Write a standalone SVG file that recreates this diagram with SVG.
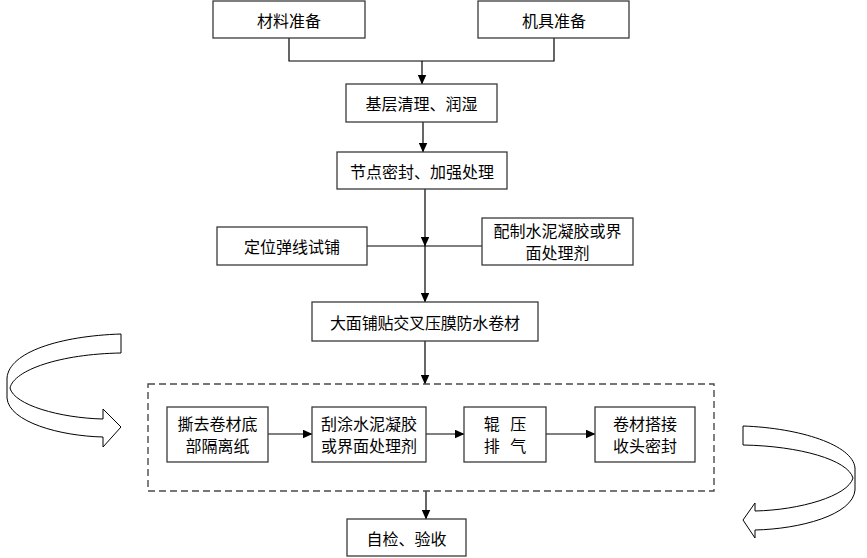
<svg xmlns="http://www.w3.org/2000/svg" width="867" height="558" viewBox="0 0 867 558">
<defs>
<marker id="ah" markerUnits="userSpaceOnUse" markerWidth="10" markerHeight="9" refX="9.5" refY="4.5" orient="auto">
<path d="M0,0 L10,4.5 L0,9 Z" fill="#000"/>
</marker>
</defs>
<style>
.box{fill:#fff;stroke:#3a3a3a;stroke-width:1.3}
.t{font-family:"Noto Sans CJK SC","Microsoft YaHei",sans-serif;font-size:16px;fill:#000;text-anchor:middle;dominant-baseline:central}
.c{fill:none;stroke:#000;stroke-width:1.2}
.a{marker-end:url(#ah)}
.dash{fill:none;stroke:#4a4a4a;stroke-width:1.4;stroke-dasharray:7 4}
.band{fill:#fff;stroke:#000;stroke-width:1}
</style>
<rect width="867" height="558" fill="#fff"/>
<g id="connectors">
<path class="c" d="M289,38 V61 H554 V38"/>
<path class="c a" d="M422,61 V84"/>
<path class="c a" d="M423,122 V152"/>
<path class="c a" d="M425,189 V246"/>
<path class="c" d="M367,246 H482"/>
<path class="c a" d="M425,246 V302"/>
<path class="c a" d="M425,341 V384"/>
<path class="c a" d="M268,434 H312"/>
<path class="c a" d="M426,434 H464"/>
<path class="c a" d="M546,434 H595"/>
<path class="c a" d="M426,491 V519"/>
</g>
<g id="group-dashed">
<rect class="dash" x="148" y="384" width="566" height="107"/>
</g>
<g id="n1"><rect class="box" x="213" y="1" width="152" height="37"/><text class="t" x="289" y="20">材料准备</text></g>
<g id="n2"><rect class="box" x="478" y="1" width="151" height="37"/><text class="t" x="554" y="20">机具准备</text></g>
<g id="n3"><rect class="box" x="346" y="84" width="151" height="38"/><text class="t" x="421.5" y="103">基层清理、润湿</text></g>
<g id="n4"><rect class="box" x="337" y="152" width="170" height="37"/><text class="t" x="422" y="171">节点密封、加强处理</text></g>
<g id="n5"><rect class="box" x="217" y="227" width="150" height="38"/><text class="t" x="292" y="246">定位弹线试铺</text></g>
<g id="n6"><rect class="box" x="482" y="218" width="151" height="47"/><text class="t" x="557.5" y="230">配制水泥凝胶或界</text><text class="t" x="557.5" y="252">面处理剂</text></g>
<g id="n7"><rect class="box" x="312" y="302" width="226" height="39"/><text class="t" x="425" y="322" textLength="190" lengthAdjust="spacing">大面铺贴交叉压膜防水卷材</text></g>
<g id="n8"><rect class="box" x="167" y="407" width="101" height="55"/><text class="t" x="217.5" y="423">撕去卷材底</text><text class="t" x="217.5" y="445">部隔离纸</text></g>
<g id="n9"><rect class="box" x="312" y="407" width="114" height="55"/><text class="t" x="369" y="423">刮涂水泥凝胶</text><text class="t" x="369" y="445">或界面处理剂</text></g>
<g id="n10"><rect class="box" x="464" y="407" width="82" height="55"/><text class="t" x="505" y="423" style="word-spacing:7px">辊 压</text><text class="t" x="505" y="445" style="word-spacing:7px">排 气</text></g>
<g id="n11"><rect class="box" x="595" y="407" width="100" height="55"/><text class="t" x="645" y="423">卷材搭接</text><text class="t" x="645" y="445">收头密封</text></g>
<g id="n12"><rect class="box" x="347" y="519" width="119" height="37"/><text class="t" x="406.5" y="538">自检、验收</text></g>
<g id="curve-left">
<path class="band" d="M121,334 C60,336 9,352 7,378 L7,398 C9,422 60,436 103,437 L103,447 L121,427 L103,409 L103,419 C60,418 14,405 10,388 C14,370 60,354 121,353 Z"/>
</g>
<g id="curve-right">
<path class="band" d="M743,426 C800,428 853,445 855,468 L855,490 C853,515 800,529 755,530 L755,538 L743,520 L755,503 L755,511 C800,510 848,496 853,478 C848,460 800,446 743,445 Z"/>
</g>
</svg>
